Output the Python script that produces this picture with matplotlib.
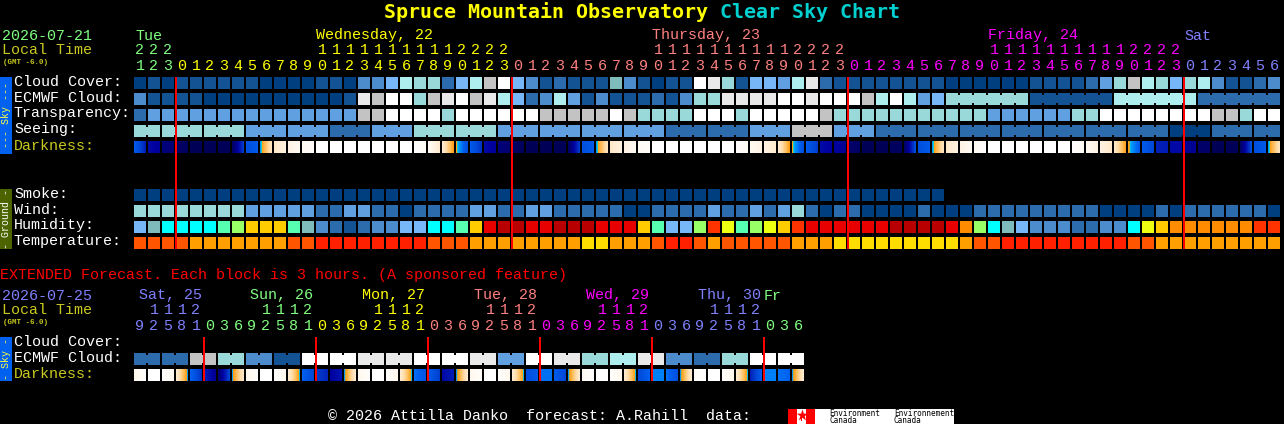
import numpy as np
import matplotlib
matplotlib.use("Agg")
import matplotlib.pyplot as plt
from matplotlib.colors import LinearSegmentedColormap

# ---------- data ----------
hours = [21,22,23,0,1,2,3,4,5,6,7,8,9,10,11,12,13,14,15,16,17,18,19,20,21,22,23,
         0,1,2,3,4,5,6,7,8,9,10,11,12,13,14,15,16,17,18,19,20,21,22,23,
         0,1,2,3,4,5,6,7,8,9,10,11,12,13,14,15,16,17,18,19,20,21,22,23,
         0,1,2,3,4,5,6]
ext_hours = [9,12,15,18,21,
             0,3,6,9,12,15,18,21, 0,3,6,9,12,15,18,21, 0,3,6,9,12,15,18,21,
             0,3,6,9,12,15,18,21, 0,3,6,9,12,15,18,21, 0,3,6]
day_labels = [("Tue",135,"tue"),("Wednesday, 22",316,"wed"),("Thursday, 23",652,"thu"),
              ("Friday, 24",988,"fri"),("Sat",1184,"sat")]
ext_day_labels = [("Sat, 25",139,"sat"),("Sun, 26",250,"tue"),("Mon, 27",362,"wed"),
                  ("Tue, 28",474,"thu"),("Wed, 29",586,"fri"),("Thu, 30",698,"sat"),("Fr",764,"tue")]
row_labels = ["Cloud Cover:","ECMWF Cloud:","Transparency:","Seeing:","Darkness:"]
ground_labels = ["Smoke:","Wind:","Humidity:","Temperature:"]

cloud = [0,1,0,1,1,1,1,1,1,0,0,0,0,1,1,0,3,3,5,6,7,
         7,2,5,6,8,10,5,3,1,2,1,1,1,11,3,1,0,1,1,10,9,7,1,5,5,4,6,9,2,1,1,
         1,1,1,1,1,1,0,0,0,0,0,0,1,1,1,1,2,4,7,8,6,7,5,7,6,3,1,1,2,3]
ecmwf = [3,1,1,1,1,0,0,0,0,0,0,0,0,0,0,1,9,8,10,10,7,
         8,9,10,8,9,6,5,2,3,6,4,1,3,1,1,1,2,1,3,7,7,9,9,9,9,10,10,9,10,10,10,
         8,6,10,6,4,5,7,7,7,7,7,7,1,1,1,1,1,1,6,6,6,6,6,6,2,2,2,2,2,2]
ecmwf_groups = [(58,63),(64,69),(70,75),(76,81)]
transparency = [2,4,4,4,4,4,4,4,4,4,4,4,4,4,4,4,8,8,10,10,10,
                10,7,10,10,10,10,10,10,8,8,8,8,8,10,8,7,7,7,7,10,10,10,7,10,10,10,10,10,8,7,7,
                7,7,7,7,7,7,7,7,7,4,4,4,4,4,4,7,7,10,10,10,10,10,10,10,10,8,8,7,10,10]
seeing = [7,7, 7,7,7, 7,7,7, 4,4,4, 4,4,4, 2,2,2, 4,4,4,
          7,7,7, 7,7,7, 4,4,4, 4,4,4, 4,4,4, 4,4,4, 2,2,2, 2,2,2, 4,4,4, 8,8,8, 4,4,4,
          2,2,2, 2,2,2, 2,2,2, 2,2,2, 2,2,2, 2,2,2, 2,2,2, 0,0,0, 2,2,2, 2,2]
seeing_sizes = [2]+[3]*26+[2]
smoke = [0]*58
wind = [7,7,7,7,7,7,7,7,4,4,4,4,4,2,2,4,4,2,2,0,2,
        2,2,2,4,4,2,2,4,4,2,2,2,2,2,0,0,2,2,2,2,4,2,2,4,2,4,7,2,0,2,2,
        0,0,0,0,2,0,0,0,2,2,2,2,2,2,2,2,2,0,0,0,0,2,0,2,2,2,2,2,2,0]
humidity = ("l t c c c c s g Y Y Y s t m d k d m m l l "
            "c c s Y E B B E E B B B E E E Y s l l g F e s g e Y F E E E E "
            "E E B B B B E O g c t l m m m d d m m c e Y O O O O O O F F").split()
temperature = ("o o o o A A A A A A A o o R R R R R R R R "
               "o o o A A A A A A A A Y Y A A A o R R o A o o o o o A A A Y Y "
               "Y Y Y Y Y Y Y A o o R R R R R R R R R o o A A A A A A A A A").split()
dark_start = [.62,.80,.88,.93,.98,.98,.98,.93,.66,.53,.22,.14,.07,0,0,0,0,0,0,0,0,
              .06,.20,.49,.62,.80,.88,.94,.98,.98,.98,.93,.66,.53,.22,.14,.07,0,0,0,0,0,0,.02,.08,.14,.20,.49,.62,.80,.82,.92,
              .98,.98,.95,.93,.66,.53,.22,.14,.07,0,0,0,0,0,0,.02,.08,.14,.22,.49,.62,.75,.80,.84,.92,.98,.97,.93,.66,.53]
dark_end = [.75,.83,.89,.95,.98,.98,.98,.70,.62,.25,.15,.08,.03,0,0,0,0,0,0,0,.05,
            .20,.49,.66,.72,.83,.90,.96,.98,.98,.98,.70,.62,.25,.15,.08,.03,0,0,0,0,0,0,.06,.14,.20,.49,.66,.70,.82,.84,.93,
            .98,.98,.95,.66,.62,.25,.15,.08,.02,0,0,0,0,0,0,.06,.14,.22,.48,.62,.68,.76,.80,.84,.93,.98,.97,.66,.62,.25]

ext_ecmwf = [2,2,8,7,3,1,10,10,9,9,10,10,9,4,10,9,7,6,9,3,2,7,10,10]
ext_dark_start = [.10,0,.01,.20,.60,.75,.90,.52,.10,0,.01,.20,.60,.70,.82,.53,
                  .10,0,.02,.20,.58,.62,.80,.53,.10,0,.01,.20,.66,.58,.62,.53,
                  .08,0,.02,.20,.68,.56,.58,.53,.05,0,.02,.20,.75,.56,.58,.53]
ext_dark_end = [.02,0,.08,.52,.72,.84,.68,.22,.02,0,.10,.51,.68,.74,.78,.20,
                .02,0,.10,.51,.64,.70,.76,.20,.03,0,.10,.51,.62,.58,.68,.20,
                .02,0,.10,.51,.60,.56,.66,.20,0,0,.10,.51,.62,.56,.60,.20]

# ---------- styling ----------
cloud_pal = ["#003F7F","#135393","#2C6CAC","#4C8CCC","#60A0E0","#77B7F7",
             "#AEEEEE","#99D9D9","#C3C3C3","#E9E9E9","#FFFFFF","#80BBBB"]
hum_pal = dict(l="#77B7F7",t="#80BBBB",c="#00FFFF",s="#57FFB0",g="#99FF66",Y="#FFCC00",
               m="#4C8CCC",d="#2C6CAC",k="#135393",E="#E80000",B="#B80000",F="#FF3300",
               e="#EEFF11",O="#FF8C00")
temp_pal = dict(o="#FF5500",A="#FFA000",R="#FF2000",Y="#FFDD00")
day_col = dict(tue="#80FF80",wed="#FFFF00",thu="#FF8080",fri="#FF00FF",sat="#8080FF")
OLIVE = "#C8C820"
dark_cmap = LinearSegmentedColormap.from_list("dark",[
    (0.00,"#FFFFFF"),(0.10,"#FFF8EE"),(0.20,"#FFEBD0"),(0.30,"#FFDDAA"),(0.40,"#FFC060"),
    (0.50,"#FF9C10"),(0.505,"#10D0D0"),(0.52,"#00A0FF"),(0.60,"#0060F0"),(0.68,"#0048D8"),
    (0.75,"#0020B8"),(0.82,"#0000A0"),(0.90,"#000070"),(1.00,"#000050")],N=512)
MONO = "Liberation Mono"
PITCH, W, X0 = 14, 12, 134

fig = plt.figure(figsize=(12.84,4.24),dpi=100,facecolor="black")
ax = fig.add_axes([0,0,1,1],facecolor="black")
ax.axis("off")

def label(x,y,s,c="white",size=10.8,fam=MONO,**kw):
    ax.text(x,y-1.5,s,color=c,fontsize=size,family=fam,va="baseline",ha=kw.pop("ha","left"),**kw)

def block(x,top,w,h,col,z=2):
    ax.bar(x,h,width=w,bottom=top,color=col,align="edge",lw=0,antialiased=False,zorder=z)

def cells(values,top,pal):
    for i,v in enumerate(values):
        block(X0+i*PITCH,top,W,W,pal[v])

def joiner(i,top,col):
    block(X0+i*PITCH+W,top+2,PITCH-W,W-4,col)

def dark_row(start,end,top):
    for i,(a,b) in enumerate(zip(start,end)):
        g = np.linspace(a,b,W).reshape(1,-1)
        ax.imshow(g,cmap=dark_cmap,vmin=0,vmax=1,extent=(X0+i*PITCH,X0+i*PITCH+W,top+W,top),
                  interpolation="nearest",aspect="auto",zorder=1)

# title
label(384,19.5,"Spruce Mountain Observatory","#FFFF00",size=14.4,fam="DejaVu Sans Mono",fontweight="bold")
label(720,19.5,"Clear Sky Chart","#00D0D0",size=14.4,fam="DejaVu Sans Mono",fontweight="bold")

# main header
label(2,41,"2026-07-21",day_col["tue"])
label(2,56,"Local Time",OLIVE)
label(3,66,"(GMT -6.0)",OLIVE,size=5.4,fontweight="bold")
for s,x,k in day_labels:
    label(x,41,s,day_col[k])
names = ["tue"]*3+["wed"]*24+["thu"]*24+["fri"]*24+["sat"]*7
for i,(h,k) in enumerate(zip(hours,names)):
    xc = X0+i*PITCH+W/2
    label(xc,71,str(h%10),day_col[k],ha="center")
    if h>=10:
        label(xc,56,str(h//10),day_col[k],ha="center")

# rows
for j,s in enumerate(row_labels):
    label(14,87+16*j,s,OLIVE if s.startswith("Dark") else "white")
for j,s in enumerate(ground_labels):
    label(14,199+16*j,s)

cells(cloud,77,cloud_pal)
cells(ecmwf,93,cloud_pal)
for a,b in ecmwf_groups:
    for i in range(a,b):
        joiner(i,93,cloud_pal[ecmwf[i]])
cells(transparency,109,cloud_pal)
cells(seeing,125,cloud_pal)
p = 0
for n in seeing_sizes:
    for i in range(p,p+n-1):
        joiner(i,125,cloud_pal[seeing[i]])
    p += n
dark_row(dark_start,dark_end,141)
cells(smoke,189,cloud_pal)
cells(wind,205,cloud_pal)
cells(humidity,221,hum_pal)
cells(temperature,237,temp_pal)

# now lines
for x in (175,511,847,1183):
    block(x,77,2,172,"#FF0000",z=5)

# side bars
def sidebar(top,h,col,txtcol,txt):
    block(0,top,12,h,col)
    ax.text(6,top+h/2,txt,color=txtcol,fontsize=7.2,family=MONO,rotation=90,ha="center",va="center",rotation_mode="anchor")
sidebar(77,77,"#0060F0","#FFFF40","--- Sky ---")
sidebar(189,60,"#4B6400","white","- Ground -")
sidebar(337,44,"#0060F0","#FFFF40","- Sky -")

# extended
label(0,281,"EXTENDED Forecast. Each block is 3 hours. (A sponsored feature)","#FF0000")
label(2,301,"2026-07-25",day_col["sat"])
label(2,316,"Local Time",OLIVE)
label(3,326,"(GMT -6.0)",OLIVE,size=5.4,fontweight="bold")
for s,x,k in ext_day_labels:
    label(x,301,s,day_col[k])
ext_names = ["sat"]*5+["tue"]*8+["wed"]*8+["thu"]*8+["fri"]*8+["sat"]*8+["tue"]*3
for i,(h,k) in enumerate(zip(ext_hours,ext_names)):
    xc = X0+i*PITCH+W/2
    label(xc,331,str(h%10),day_col[k],ha="center")
    if h>=10:
        label(xc,316,str(h//10),day_col[k],ha="center")
label(14,347,"Cloud Cover:")
label(14,363,"ECMWF Cloud:")
label(14,379,"Darkness:",OLIVE)
for g,v in enumerate(ext_ecmwf):
    col = cloud_pal[v]
    block(X0+2*g*PITCH,353,W,W,col)
    block(X0+(2*g+1)*PITCH,353,W,W,col)
    joiner(2*g,353,col)
dark_row(ext_dark_start,ext_dark_end,369)
for x in (203,315,427,539,651,763):
    block(x,337,2,44,"#FF0000",z=5)

# footer
label(328,421,"\u00a9 2026 Attilla Danko  forecast: A.Rahill  data:")
block(788,409,166,15,"white")
block(788,409,9,15,"#FF0000",z=3)
block(806,409,9,15,"#FF0000",z=3)
ax.scatter([801.5],[415],marker="*",s=75,color="#FF0000",lw=0,zorder=4)
block(801,417,1,4,"#FF0000",z=4)
for x,s in ((829,"Environment"),(894,"Environnement")):
    ax.text(x,416,s,color="black",fontsize=5.6,family="DejaVu Sans Mono",va="baseline",ha="left",zorder=4)
    ax.text(x,423,"Canada",color="black",fontsize=5.6,family="DejaVu Sans Mono",va="baseline",ha="left",zorder=4)

ax.set_xlim(0,1284)
ax.set_ylim(424,0)
fig.savefig("out.png",dpi=100,facecolor="black")
